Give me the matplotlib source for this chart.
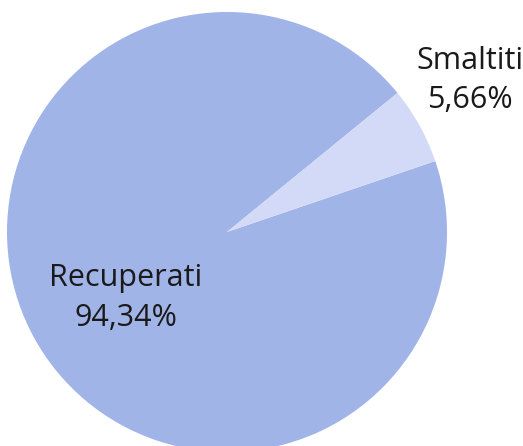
import matplotlib.pyplot as plt

# Data
categories = ['Recuperati', 'Smaltiti']
values = [94.34, 5.66]
colors = ['#A1B4E8', '#D3DAF7']

fig = plt.figure(figsize=(5.23, 4.46), dpi=100)
# axes placed so the pie sits like in the reference (partly cut at the bottom)
ax = fig.add_axes([7 / 523, -6 / 446, 440 / 523, 440 / 446])

wedges, _ = ax.pie(values, colors=colors, startangle=39.2, counterclock=True,
                   radius=1, wedgeprops=dict(linewidth=0))
ax.set_xlim(-1, 1)
ax.set_ylim(-1, 1)
ax.set_aspect('equal')
ax.axis('off')

# Labels
label_pos = [(-0.459, -0.30), (1.105, 0.689)]
for cat, val, (x, y) in zip(categories, values, label_pos):
    txt = f"{cat}\n{val:.2f}%".replace('.', ',')
    ax.text(x, y, txt, ha='center', va='center', fontsize=22,
            family='Open Sans', color='#1a1a1a',
            linespacing=1.42, clip_on=False)

plt.savefig('out.png', dpi=100)
